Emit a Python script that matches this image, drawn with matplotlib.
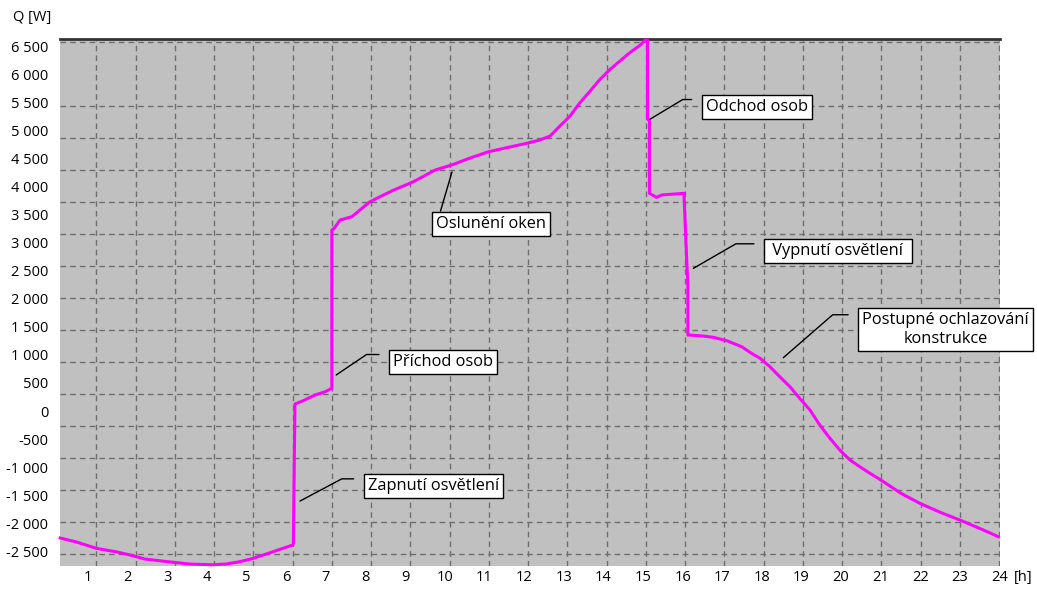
import matplotlib
matplotlib.use("Agg")
import matplotlib.pyplot as plt
from matplotlib.ticker import FixedLocator, FixedFormatter

plt.rcParams['font.family'] = ['Open Sans', 'DejaVu Sans']

# Tepelna zatez mistnosti behem dne, odecteno z puvodniho grafu
hours = [0.08, 0.5, 1.0, 1.5, 1.86, 2.24, 2.83, 3.39, 3.97, 4.3, 4.65, 5.0, 5.5,
         6.0, 6.02, 6.06, 6.27, 6.57, 6.83, 7.0, 7.0, 7.06, 7.21, 7.51, 7.97,
         8.55, 9.08, 9.63, 10.05, 10.5, 10.99, 11.5, 11.96, 12.30, 12.56, 12.81,
         13.07, 13.32, 13.58, 13.83, 14.09, 14.34, 14.59, 14.85, 14.98, 15.04,
         15.04, 15.09, 15.09, 15.27, 15.40, 15.74, 15.97, 15.97, 16.02, 16.02,
         16.07, 16.07, 16.12, 16.46, 16.72, 17.06, 17.44, 17.69, 17.91, 18.16,
         18.41, 18.67, 18.92, 19.18, 19.43, 19.69, 19.94, 20.2, 20.45, 20.71,
         20.92, 21.5, 21.98, 22.5, 23.0, 23.5, 23.98]
load_w = [-2263, -2335, -2447, -2508, -2566, -2638, -2686, -2727, -2740, -2727,
          -2686, -2625, -2508, -2388, -2360, 125, 184, 285, 344, 405, 3226, 3256,
          3404, 3463, 3730, 3930, 4087, 4295, 4384, 4504, 4621, 4700, 4771, 4830,
          4901, 5079, 5258, 5494, 5703, 5911, 6090, 6238, 6386, 6518, 6612, 6612,
          5200, 5190, 3880, 3808, 3850, 3868, 3880, 3880, 3017, 3017, 2215, 1354,
          1354, 1337, 1313, 1253, 1146, 1028, 939, 790, 611, 433, 226, 18, -250,
          -487, -695, -873, -993, -1111, -1200, -1467, -1645, -1806, -1943, -2091,
          -2240]

y_ticks = list(range(-2500, 7000, 500))
y_labels = [f"{v:,}".replace(",", " ") for v in y_ticks]
x_labels = [str(h) for h in range(1, 25)]

# popisky: text, konec vodici cary, stred ramecku, uhel cary, relpos
notes = [
    ("Zapnutí osvětlení", (6.19, -1604), (9.59, -1337), 28, (0, 0.95)),
    ("Příchod osob", (7.11, 642), (9.84, 879), 34, (0, 0.95)),
    ("Oslunění oken", (10.06, 4260), (11.05, 3338), None, (0.03, 1.0)),
    ("Odchod osob", (15.10, 5199), (17.83, 5423), 31, (0, 0.95)),
    (" Vypnutí osvětlení ", (16.21, 2543), (19.89, 2852), 30, (0, 0.95)),
    ("Postupné ochlazování\nkonstrukce", (18.50, 950), (22.64, 1452), 41, (0, 0.93)),
]

fig = plt.figure(figsize=(10.37, 5.92), dpi=100)
ax = fig.add_axes([0.0579, 0.0439, 0.9064, 0.8902])
ax.set_facecolor('#c0c0c0')

ax.plot(hours, load_w, color='#ff00ff', lw=2.2, zorder=3, clip_on=False)

ax.set_xlim(0.076, 24.02)
ax.set_ylim(-2762, 6630)

# popisky os jsou v puvodnim grafu mirne posunute oproti mrizce
ax.xaxis.set_major_locator(FixedLocator([0.79 + i * 1.0096 for i in range(24)]))
ax.xaxis.set_major_formatter(FixedFormatter(x_labels))
ax.xaxis.set_minor_locator(FixedLocator(list(range(1, 25))))
ax.yaxis.set_major_locator(FixedLocator(y_ticks))
ax.yaxis.set_major_formatter(FixedFormatter(y_labels))
ax.yaxis.set_minor_locator(FixedLocator([-2550 + 570 * k for k in range(17)]))

ax.grid(True, which='minor', color='#6e6e6e', linestyle=(0, (4, 3)), lw=1)
ax.grid(False, which='major')
ax.tick_params(which='both', length=0, labelsize=10.5, colors='black')
ax.tick_params(axis='y', pad=8.5)
ax.tick_params(axis='x', pad=3)

for side in ('left', 'right', 'bottom'):
    ax.spines[side].set_visible(False)
ax.spines['top'].set_color('#333333')
ax.spines['top'].set_linewidth(2)

for text, end, box, angle, rel in notes:
    if angle is None:
        conn, gap = 'arc3', 0
    else:
        conn, gap = 'angle,angleA=0,angleB=%d,rad=0' % angle, 7
    ax.annotate(text, xy=end, xytext=box, ha='center', va='center',
                fontsize=11.8, annotation_clip=False, zorder=5,
                bbox=dict(boxstyle='square,pad=0.25', fc='white', ec='black', lw=1),
                arrowprops=dict(arrowstyle='-', color='black', lw=1,
                                connectionstyle=conn, relpos=rel,
                                shrinkA=gap, shrinkB=0))

fig.text(13 / 1037, 1 - 17 / 592, 'Q [W]', ha='left', va='center', fontsize=10.5)
fig.text(1023 / 1037, 1 - 578 / 592, '[h]', ha='center', va='center', fontsize=10.5)

fig.savefig('out.png', dpi=100)
